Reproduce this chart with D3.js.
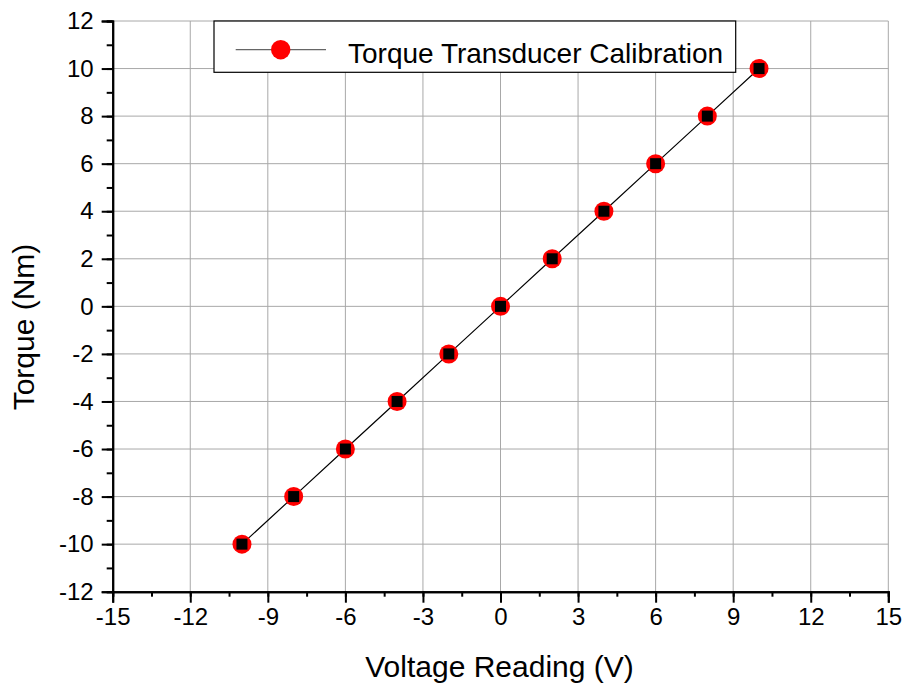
<!DOCTYPE html>
<html><head><meta charset="utf-8">
<script src="https://cdn.jsdelivr.net/npm/d3@7"></script>
<style>body{margin:0;background:#fff}svg{display:block;font-family:"Liberation Sans",Arial,sans-serif}</style>
</head><body>
<svg id="c" width="907" height="691"></svg>
<script>
const voltage = [-10,-8,-6,-4,-2,0,2,4,6,8,10];
const torque  = [-10,-8,-6,-4,-2,0,2,4,6,8,10];
const xTicks = [-15,-12,-9,-6,-3,0,3,6,9,12,15];
const yTicks = [-12,-10,-8,-6,-4,-2,0,2,4,6,8,10,12];
const seriesName = "Torque Transducer Calibration";
const xTitle = "Voltage Reading (V)";
const yTitle = "Torque (Nm)";

const svg = d3.select("#c");
const L=112.7, R=888.3, T=21, B=591.7;
const x = d3.scaleLinear().domain([-15,15]).range([L,R]);
const y = d3.scaleLinear().domain([-12,12]).range([B,T]);
const fmt = d => String(d);

const g = svg.append("g");
g.selectAll(".gx").data(xTicks).enter().append("line")
  .attr("x1",d=>x(d)).attr("x2",d=>x(d)).attr("y1",T).attr("y2",B)
  .attr("stroke","#a8a8a8").attr("stroke-width",1);
g.selectAll(".gy").data(yTicks).enter().append("line")
  .attr("y1",d=>y(d)).attr("y2",d=>y(d)).attr("x1",L).attr("x2",R)
  .attr("stroke","#a8a8a8").attr("stroke-width",1);

const xMinor = d3.range(-15,15.01,1.5);
const yMinor = d3.range(-12,12.01,1);
const xa = svg.append("g").attr("transform",`translate(0,${B})`);
xa.call(d3.axisBottom(x).tickValues(xMinor).tickSize(5).tickFormat(""));
xa.append("g").call(d3.axisBottom(x).tickValues(xTicks).tickSize(11).tickPadding(5).tickFormat(fmt));
const ya = svg.append("g").attr("transform",`translate(${L},0)`);
ya.call(d3.axisLeft(y).tickValues(yMinor).tickSize(6).tickFormat(""));
ya.append("g").call(d3.axisLeft(y).tickValues(yTicks).tickSize(11).tickPadding(8).tickFormat(fmt));
svg.selectAll(".domain").attr("stroke","#000").attr("stroke-width",2);
svg.selectAll(".tick line").attr("stroke","#000").attr("stroke-width",2);
svg.selectAll(".tick text").attr("font-size",24).attr("fill","#000").attr("font-family","Liberation Sans, Arial, sans-serif");

svg.append("text").attr("x",499.5).attr("y",677).attr("text-anchor","middle")
  .attr("font-size",30).text(xTitle);
svg.append("text").attr("transform",`translate(34,327) rotate(-90)`).attr("text-anchor","middle")
  .attr("font-size",30).text(yTitle);

const pts = voltage.map((v,i)=>[v,torque[i]]);
svg.append("path").datum(pts).attr("fill","none").attr("stroke","#000").attr("stroke-width",1.2)
  .attr("d",d3.line().x(d=>x(d[0])).y(d=>y(d[1])));
const m = svg.append("g");
m.selectAll("circle").data(pts).enter().append("circle")
  .attr("cx",d=>x(d[0])).attr("cy",d=>y(d[1])).attr("r",9.5).attr("fill","#ff0000");
m.selectAll("rect").data(pts).enter().append("rect")
  .attr("x",d=>x(d[0])-5.5).attr("y",d=>y(d[1])-5.5).attr("width",11).attr("height",11).attr("fill","#000");

const lg = svg.append("g");
lg.append("rect").attr("x",214).attr("y",21).attr("width",521.7).attr("height",51.3)
  .attr("fill","#fff").attr("stroke","#000").attr("stroke-width",1.2);
lg.append("line").attr("x1",235.7).attr("x2",326).attr("y1",49.7).attr("y2",49.7).attr("stroke","#666").attr("stroke-width",1.2);
lg.append("circle").attr("cx",280.7).attr("cy",49.7).attr("r",9.7).attr("fill","#ff0000");
lg.append("text").attr("x",348).attr("y",63.3).attr("font-size",28).text(seriesName);
</script>
</body></html>
